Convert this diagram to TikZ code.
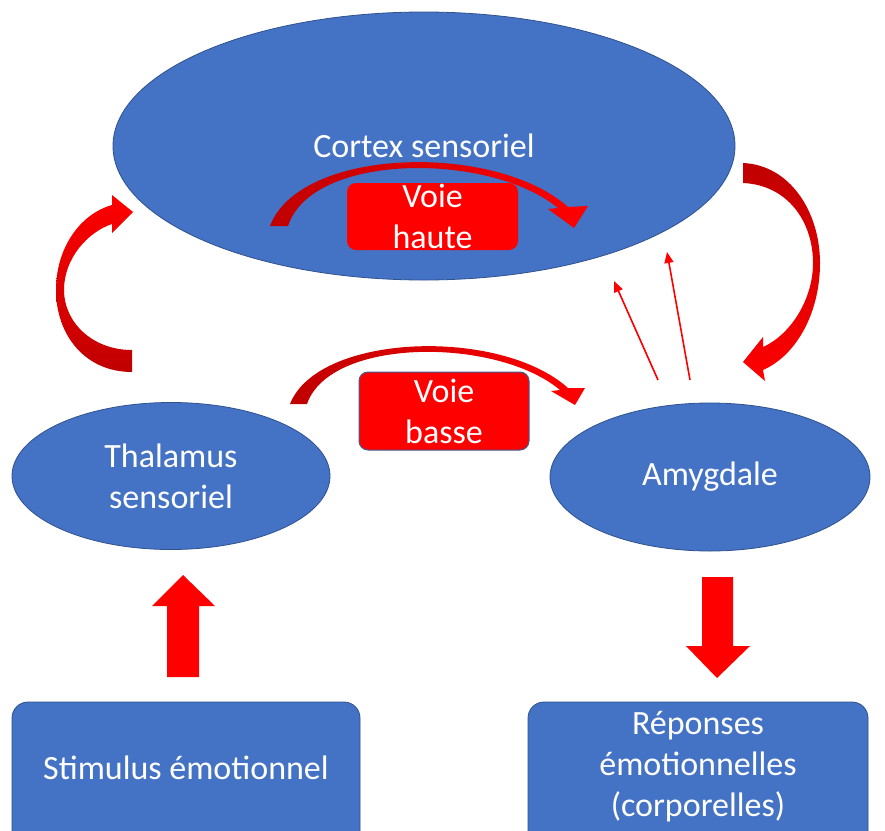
\documentclass[tikz,border=0pt]{standalone}
\usepackage{fontspec}
\setmainfont{Carlito}
\usetikzlibrary{shapes.geometric,arrows.meta}
\definecolor{pblue}{HTML}{4472C4}
\definecolor{pedge}{HTML}{2F528F}
\definecolor{vedge}{HTML}{3E5E96}
\definecolor{dred}{HTML}{C00000}
\definecolor{bred}{HTML}{FF0000}
\begin{document}
\begin{tikzpicture}[x=1pt,y=-1pt,
  txt/.style={text=white,font=\fontsize{34}{41}\selectfont,align=center,inner sep=0pt},
  oval/.style={ellipse,fill=pblue,draw=pedge,line width=0.8pt,inner sep=0pt,txt},
  blk/.style={rounded corners=16pt,fill=pblue,draw=pedge,line width=0.8pt,inner sep=0pt},
  voie/.style={rounded corners=9pt,fill=bred,inner sep=0pt},
  thinarrow/.style={draw=bred,line width=1.6pt,-{Triangle[length=11pt,width=9pt]}},
  blockarrow/.style={fill=bred}
]
\useasboundingbox (0,0) rectangle (885,830);
\clip (0,0) rectangle (885,830);
\fill[white] (0,0) rectangle (885,830);

% main shapes
\node[oval,minimum width=622pt,minimum height=268pt] (cortex) at (424,146) {Cortex sensoriel};
\node[oval,minimum width=318pt,minimum height=147pt] (thal) at (171,476) {Thalamus\\sensoriel};
\node[oval,minimum width=320pt,minimum height=148pt] (amyg) at (710,477) {Amygdale};

\node[voie,minimum width=171pt,minimum height=67pt] (vh) at (432.5,216.5) {};
\node[txt] (vhT) at (vh.center) {Voie\\haute};
\node[voie,draw=vedge,line width=1pt,minimum width=170pt,minimum height=78pt] (vb) at (444,411) {};
\node[txt] (vbT) at (vb.center) {Voie\\basse};

\node[blk,minimum width=348pt,minimum height=170pt] (stim) at (186,787) {};
\node[txt] (stimT) at (186,768) {Stimulus émotionnel};
\node[blk,minimum width=340pt,minimum height=170pt] (resp) at (698,787) {};
\node[txt] (respT) at (698,767) {Réponses\\émotionnelles\\(corporelles)};

% curved arrow: voie haute
\shade[left color=dred,right color=bred]
  (270,226) .. controls (300,147) and (495,142) .. (568,207)
  -- (588,206) -- (574,228) -- (548,209) -- (558,208)
  .. controls (490,152) and (312,152) .. (288,226) -- cycle;

% curved arrow: voie basse
\shade[left color=dred,right color=bred]
  (290,404) .. controls (318,333) and (500,327) .. (568,388)
  -- (585,388) -- (575,405) -- (551,391) -- (560,390)
  .. controls (497,337) and (330,337) .. (307,404) -- cycle;

% curved arrow: thalamus -> cortex
\shade[top color=bred,bottom color=dred]
  (132,372) .. controls (85,372) and (56,335) .. (56,290)
  .. controls (56,248) and (80,214) .. (112,205)
  -- (112,195) -- (133,212) -- (112,233) -- (112,224)
  .. controls (88,232) and (64,258) .. (64,290)
  .. controls (64,322) and (92,350) .. (132,350) -- cycle;

% curved arrow: cortex -> amygdale
\shade[top color=dred,bottom color=bred]
  (743,163) .. controls (790,165) and (820,212) .. (820,263)
  .. controls (820,312) and (797,355) .. (763,370)
  -- (765,381) -- (743,362) -- (763,337) -- (763,347)
  .. controls (790,335) and (813,300) .. (813,263)
  .. controls (813,222) and (788,185) .. (743,183) -- cycle;

% thin arrows amygdale -> cortex
\coordinate (a1) at (658,380);
\coordinate (b1) at (614,281);
\coordinate (a2) at (690,380);
\coordinate (b2) at (667,252);
\draw[thinarrow] (a1) -- (b1);
\draw[thinarrow] (a2) -- (b2);

% block arrows
\fill[blockarrow] (167,677) -- (167,606) -- (152,606) -- (183,575) -- (215,606) -- (199,606) -- (199,677) -- cycle;
\fill[blockarrow] (702,577) -- (733,577) -- (733,646) -- (750,646) -- (717,678) -- (686,646) -- (702,646) -- cycle;
\end{tikzpicture}
\end{document}
